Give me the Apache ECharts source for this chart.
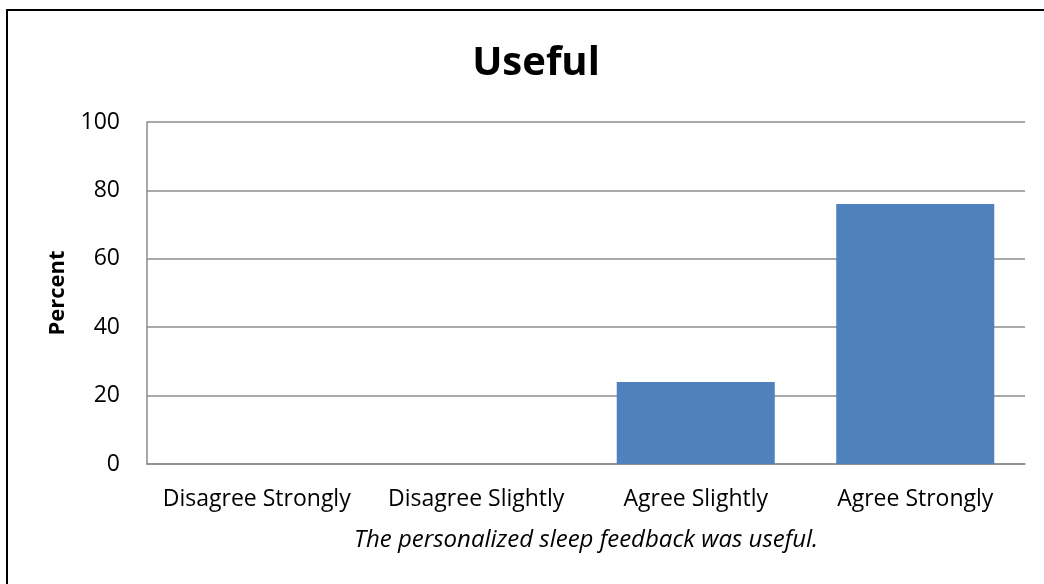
<!DOCTYPE html>
<html>
<head>
<meta charset="utf-8">
<script src="https://cdn.jsdelivr.net/npm/echarts@6/dist/echarts.min.js"></script>
<style>
  html, body { margin: 0; padding: 0; background: #fff; }
  #chart { width: 1044px; height: 584px; }
</style>
</head>
<body>
<div id="chart"></div>
<script>
// data
const categories = ['Disagree Strongly', 'Disagree Slightly', 'Agree Slightly', 'Agree Strongly'];
const percent = [0, 0, 24, 76];

const font = '"Open Sans", Lato, sans-serif';
const myChart = echarts.init(document.getElementById('chart'));

const option = {
  animation: false,
  backgroundColor: '#fff',
  graphic: [{
    type: 'rect',
    shape: { x: 7, y: 10, width: 1100, height: 640 },
    style: { fill: 'none', stroke: '#000', lineWidth: 2 },
    silent: true
  }],
  title: {
    text: 'Useful',
    left: 531,
    top: 39,
    textAlign: 'center',
    textStyle: { fontFamily: font, fontSize: 40, fontWeight: 'bold', color: '#000' }
  },
  grid: { left: 147, right: 19, top: 122, bottom: 120 },
  xAxis: {
    type: 'category',
    data: categories,
    name: 'The personalized sleep feedback was useful.',
    nameLocation: 'middle',
    nameGap: 64,
    nameTextStyle: { fontFamily: font, fontSize: 24, fontStyle: 'italic', color: '#000' },
    axisLine: { lineStyle: { color: '#8c8c8c', width: 1.5 } },
    axisTick: { show: false },
    axisLabel: { interval: 0, hideOverlap: false, fontFamily: font, fontSize: 23, color: '#000', margin: 24 }
  },
  yAxis: {
    type: 'value',
    min: 0,
    max: 100,
    interval: 20,
    name: 'Percent',
    nameLocation: 'middle',
    nameGap: 78,
    nameTextStyle: { fontFamily: font, fontSize: 22, fontWeight: 'bold', color: '#000' },
    axisLine: { show: true, lineStyle: { color: '#8c8c8c', width: 1.5 } },
    axisTick: { show: false },
    axisLabel: { fontFamily: font, fontSize: 23, color: '#000', margin: 27 },
    splitLine: { lineStyle: { color: '#8c8c8c', width: 1.5 } }
  },
  series: [{
    type: 'bar',
    data: percent,
    barCategoryGap: '28%',
    itemStyle: { color: '#4f81bd' }
  }]
};

option && myChart.setOption(option);
</script>
</body>
</html>
